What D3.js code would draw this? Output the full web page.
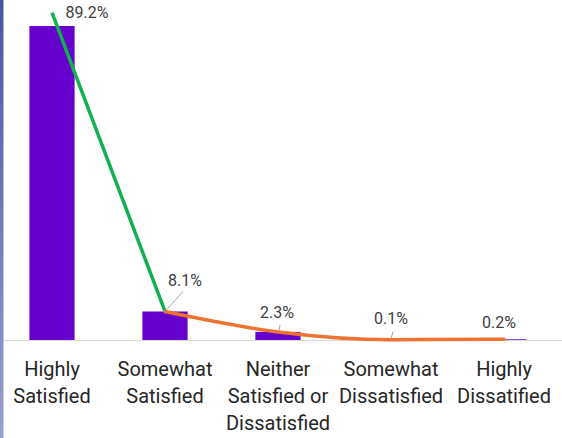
<!DOCTYPE html>
<html>
<head>
<meta charset="utf-8">
<script src="https://cdn.jsdelivr.net/npm/d3@7"></script>
<style>
  body { margin: 0; background: #fff; }
  svg { display: block; }
</style>
</head>
<body>
<div id="chart"></div>
<script>
const categories = ["Highly Satisfied", "Somewhat Satisfied", "Neither Satisfied or Dissatisfied", "Somewhat Dissatisfied", "Highly Dissatified"];
const categoryLines = [["Highly", "Satisfied"], ["Somewhat", "Satisfied"], ["Neither", "Satisfied or", "Dissatisfied"], ["Somewhat", "Dissatisfied"], ["Highly", "Dissatified"]];
const values = [89.2, 8.1, 2.3, 0.1, 0.2];
const valueLabels = ["89.2%", "8.1%", "2.3%", "0.1%", "0.2%"];
const greenValues = [93.0, 8.1];
const orangeValues = [8.1, 2.3, 0.1, 0.2];

const W = 562, H = 438;
const baseY = 340;
const font = "Roboto, 'Noto Sans', sans-serif";

const svg = d3.select("#chart").append("svg")
    .attr("width", W)
    .attr("height", H);

// left edge strip
const defs = svg.append("defs");
const grad = defs.append("linearGradient")
    .attr("id", "strip").attr("x1", 0).attr("x2", 0).attr("y1", 0).attr("y2", 1);
grad.append("stop").attr("offset", "0%").attr("stop-color", "#4a55a0");
grad.append("stop").attr("offset", "100%").attr("stop-color", "#9aa1cc");
svg.append("rect").attr("x", 0).attr("y", 0).attr("width", 3.5).attr("height", H)
    .attr("fill", "url(#strip)");

const x = d3.scaleBand()
    .domain(categories)
    .range([-4.5, 560.5])
    .paddingInner(0.6)
    .paddingOuter(0.3);

const y = d3.scaleLinear()
    .domain([0, 89.2])
    .range([baseY, 26]);

const cx = i => x(categories[i]) + x.bandwidth() / 2;

// axis line
svg.append("line")
    .attr("x1", 4).attr("x2", W)
    .attr("y1", baseY + 0.5).attr("y2", baseY + 0.5)
    .attr("stroke", "#d9d9d9").attr("stroke-width", 1.2);

// bars
svg.selectAll(".bar")
    .data(values)
    .enter().append("rect")
    .attr("class", "bar")
    .attr("x", (d, i) => x(categories[i]))
    .attr("width", x.bandwidth())
    .attr("y", d => y(d))
    .attr("height", d => baseY - y(d))
    .attr("fill", "#6600cc");

// lines
const greenLine = d3.line()
    .x((d, i) => cx(i))
    .y(d => y(d));

svg.append("path")
    .datum(greenValues)
    .attr("fill", "none")
    .attr("stroke", "#12b050")
    .attr("stroke-width", 3.5)
    .attr("d", greenLine);

const orangeLine = d3.line()
    .x((d, i) => cx(i + 1))
    .y(d => y(d))
    .curve(d3.curveMonotoneX);

svg.append("path")
    .datum(orangeValues)
    .attr("fill", "none")
    .attr("stroke", "#ee7230")
    .attr("stroke-width", 3.5)
    .attr("stroke-linecap", "round")
    .attr("d", orangeLine);

// data labels (offsets from the bar top)
const labelOffsets = [[35, -8], [20, -25.5], [-1, -14], [0, -15.5], [-5, -11]];
const leaders = [null, [[0, 0], [18, -20]], [[1, -1], [2, -7]], [[0, -1], [2, -8]], null];

values.forEach((v, i) => {
    const px = cx(i), py = y(v);
    if (leaders[i]) {
        svg.append("line")
            .attr("x1", px + leaders[i][0][0]).attr("y1", py + leaders[i][0][1])
            .attr("x2", px + leaders[i][1][0]).attr("y2", py + leaders[i][1][1])
            .attr("stroke", "#a6a6a6").attr("stroke-width", 1);
    }
    svg.append("text")
        .attr("x", px + labelOffsets[i][0])
        .attr("y", py + labelOffsets[i][1])
        .attr("text-anchor", "middle")
        .attr("font-family", font)
        .attr("font-size", "16px")
        .attr("fill", "#404040")
        .text(valueLabels[i]);
});

// category labels
categoryLines.forEach((lines, i) => {
    const t = svg.append("text")
        .attr("x", cx(i))
        .attr("y", 376)
        .attr("text-anchor", "middle")
        .attr("font-family", font)
        .attr("font-size", "20px")
        .attr("fill", "#262626");
    lines.forEach((ln, j) => {
        t.append("tspan")
            .attr("x", cx(i))
            .attr("dy", j === 0 ? 0 : 27)
            .text(ln);
    });
});
</script>
</body>
</html>
